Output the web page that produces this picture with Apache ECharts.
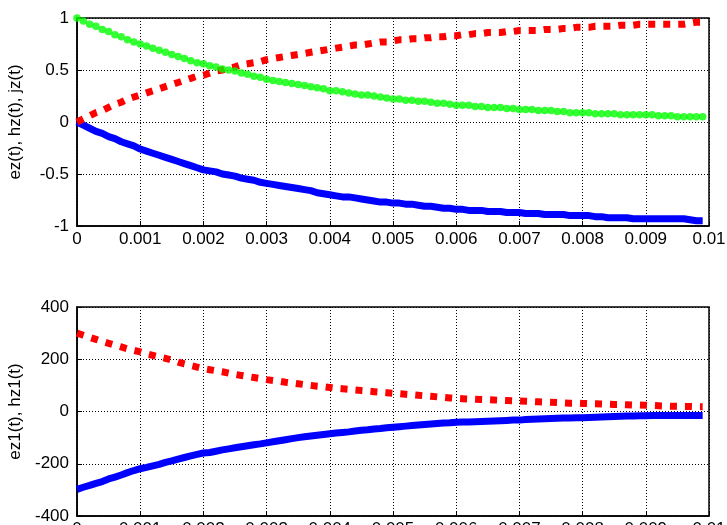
<!DOCTYPE html>
<html>
<head>
<meta charset="utf-8">
<script src="https://cdn.jsdelivr.net/npm/echarts@6/dist/echarts.min.js"></script>
<style>
html,body{margin:0;padding:0;background:#fff;}
#c{width:727px;height:525px;}
</style>
</head>
<body>
<div id="c"></div>
<script>
// sample times (s)
const time = [0,0.0001,0.0002,0.0003,0.0004,0.0005,0.0006,0.0007,0.0008,0.0009,
0.001,0.0011,0.0012,0.0013,0.0014,0.0015,0.0016,0.0017,0.0018,0.0019,
0.002,0.0021,0.0022,0.0023,0.0024,0.0025,0.0026,0.0027,0.0028,0.0029,
0.003,0.0031,0.0032,0.0033,0.0034,0.0035,0.0036,0.0037,0.0038,0.0039,
0.004,0.0041,0.0042,0.0043,0.0044,0.0045,0.0046,0.0047,0.0048,0.0049,
0.005,0.0051,0.0052,0.0053,0.0054,0.0055,0.0056,0.0057,0.0058,0.0059,
0.006,0.0061,0.0062,0.0063,0.0064,0.0065,0.0066,0.0067,0.0068,0.0069,
0.007,0.0071,0.0072,0.0073,0.0074,0.0075,0.0076,0.0077,0.0078,0.0079,
0.008,0.0081,0.0082,0.0083,0.0084,0.0085,0.0086,0.0087,0.0088,0.0089,
0.009,0.0091,0.0092,0.0093,0.0094,0.0095,0.0096,0.0097,0.0098,0.0099];

// top panel
const ez = [0,-0.03,-0.06,-0.09,-0.11,-0.14,-0.16,-0.19,-0.21,-0.23,
-0.26,-0.28,-0.30,-0.32,-0.34,-0.36,-0.38,-0.40,-0.42,-0.44,
-0.46,-0.47,-0.48,-0.50,-0.51,-0.52,-0.54,-0.55,-0.56,-0.58,
-0.59,-0.60,-0.61,-0.62,-0.63,-0.64,-0.65,-0.66,-0.68,-0.69,
-0.70,-0.71,-0.72,-0.72,-0.73,-0.74,-0.75,-0.76,-0.77,-0.77,
-0.78,-0.78,-0.79,-0.79,-0.80,-0.81,-0.81,-0.82,-0.83,-0.83,
-0.84,-0.84,-0.85,-0.85,-0.85,-0.86,-0.86,-0.86,-0.87,-0.87,
-0.87,-0.88,-0.88,-0.88,-0.89,-0.89,-0.89,-0.89,-0.90,-0.90,
-0.90,-0.90,-0.91,-0.91,-0.92,-0.92,-0.92,-0.92,-0.93,-0.93,
-0.93,-0.93,-0.93,-0.93,-0.93,-0.93,-0.93,-0.94,-0.95,-0.95];

const hz = [0,0.03,0.06,0.09,0.11,0.14,0.17,0.19,0.22,0.24,
0.26,0.28,0.30,0.32,0.34,0.36,0.38,0.40,0.42,0.44,
0.45,0.47,0.49,0.50,0.52,0.53,0.55,0.56,0.57,0.58,
0.60,0.61,0.62,0.63,0.64,0.65,0.66,0.67,0.68,0.69,
0.70,0.71,0.72,0.73,0.74,0.74,0.75,0.76,0.77,0.77,
0.78,0.79,0.79,0.80,0.80,0.81,0.81,0.82,0.82,0.83,
0.83,0.84,0.84,0.85,0.85,0.86,0.86,0.86,0.87,0.87,
0.88,0.88,0.88,0.88,0.89,0.89,0.89,0.90,0.90,0.91,
0.91,0.91,0.92,0.92,0.92,0.92,0.93,0.93,0.93,0.94,
0.94,0.94,0.94,0.94,0.94,0.94,0.94,0.95,0.96,0.96];

const jz = [1.00,0.97,0.94,0.92,0.89,0.87,0.84,0.82,0.79,0.77,
0.75,0.73,0.71,0.69,0.67,0.65,0.63,0.61,0.59,0.57,
0.56,0.54,0.53,0.51,0.50,0.49,0.47,0.46,0.44,0.43,
0.41,0.40,0.39,0.38,0.37,0.36,0.35,0.34,0.33,0.32,
0.30,0.30,0.29,0.28,0.27,0.26,0.26,0.25,0.24,0.23,
0.22,0.22,0.21,0.21,0.20,0.20,0.19,0.18,0.18,0.17,
0.16,0.16,0.16,0.15,0.15,0.14,0.14,0.14,0.13,0.13,
0.12,0.12,0.12,0.11,0.11,0.11,0.10,0.10,0.09,0.09,
0.09,0.09,0.08,0.08,0.08,0.08,0.07,0.07,0.07,0.07,
0.07,0.07,0.06,0.06,0.06,0.05,0.05,0.05,0.05,0.05];

// bottom panel
const ez1 = [-298,-290,-283,-275,-268,-258,-251,-243,-234,-226,
-219,-214,-208,-202,-195,-189,-182,-176,-170,-164,
-159,-157,-152,-147,-143,-139,-135,-131,-127,-124,
-120,-116,-112,-108,-104,-100,-97,-94,-91,-88,
-85,-82,-80,-78,-75,-72,-70,-67,-65,-62,
-60,-58,-56,-54,-52,-50,-48,-46,-44,-43,
-41,-40,-40,-39,-38,-37,-36,-35,-34,-33,
-33,-31,-30,-29,-28,-27,-26,-25,-25,-24,
-24,-23,-22,-21,-20,-19,-18,-17,-17,-16,
-16,-15,-15,-15,-15,-15,-15,-15,-15,-15];

const hz1 = [300,292,284,276,268,261,254,247,240,234,
228,221,215,209,203,197,189,182,176,170,
164,160,156,152,147,142,138,134,130,126,
122,119,116,112,109,106,103,100,97,95,
92,89,87,85,82,80,78,76,74,72,
70,68,66,64,62,60,58,56,54,52,
50,49,48,47,46,45,44,43,42,41,
40,39,38,37,36,35,34,33,32,32,
31,30,30,29,28,27,27,26,25,25,
24,23,22,21,20,20,19,19,18,18];

const xTicks = {min:0, max:0.01, interval:0.001};
const topTicks = {min:-1, max:1, interval:0.5};
const botTicks = {min:-400, max:400, interval:200};

const pair = arr => arr.map((v,i)=>[time[i], v]);

const font = 'Liberation Sans, Arial, sans-serif';
const txt = {color:'#000', fontFamily:font, fontSize:17};

function xAx(gi){
  return {
    type:'value', gridIndex:gi, min:xTicks.min, max:xTicks.max, interval:xTicks.interval,
    axisLine:{show:true, onZero:false, lineStyle:{color:'#000', width:1.5}},
    axisTick:{show:true, inside:true, length:5, lineStyle:{color:'#000'}},
    axisLabel:Object.assign({margin:5, showMinLabel:true, showMaxLabel:true, hideOverlap:false}, txt),
    splitLine:{show:true, lineStyle:{color:'#000', type:[1,2], width:1}}
  };
}
function yAx(gi, t, name){
  return {
    type:'value', gridIndex:gi, min:t.min, max:t.max, interval:t.interval,
    name:name, nameLocation:'middle', nameGap:53, nameTextStyle:txt,
    axisLine:{show:true, onZero:false, lineStyle:{color:'#000', width:1.5}},
    axisTick:{show:true, inside:true, length:5, lineStyle:{color:'#000'}},
    axisLabel:Object.assign({margin:8}, txt),
    splitLine:{show:true, lineStyle:{color:'#000', type:[1,2], width:1}}
  };
}

const blueStyle = {color:'#0000ff', width:7};
const redStyle = {color:'#ff0000', width:7, type:[7,8], cap:'butt'};

const gridBase = {left:77, right:18, show:true, borderColor:'#000', borderWidth:1.5, backgroundColor:'transparent', containLabel:false, outerBoundsMode:'none'};

const chart = echarts.init(document.getElementById('c'), null, {renderer:'canvas'});
chart.setOption({
  animation:false,
  backgroundColor:'#fff',
  grid:[
    Object.assign({top:18, height:208}, gridBase),
    Object.assign({top:307, height:209}, gridBase)
  ],
  xAxis:[xAx(0), xAx(1)],
  yAxis:[yAx(0, topTicks, 'ez(t), hz(t), jz(t)'), yAx(1, botTicks, 'ez1(t), hz1(t)')],
  series:[
    {type:'line', xAxisIndex:0, yAxisIndex:0, data:pair(ez), showSymbol:false, lineStyle:blueStyle, z:3},
    {type:'line', xAxisIndex:0, yAxisIndex:0, data:pair(hz), showSymbol:false, lineStyle:redStyle, z:4},
    {type:'scatter', xAxisIndex:0, yAxisIndex:0, data:pair(jz), symbol:'circle', symbolSize:7.5, itemStyle:{color:'#00ff00'}, z:5},
    {type:'line', xAxisIndex:1, yAxisIndex:1, data:pair(ez1), showSymbol:false, lineStyle:blueStyle, z:3},
    {type:'line', xAxisIndex:1, yAxisIndex:1, data:pair(hz1), showSymbol:false, lineStyle:redStyle, z:4}
  ]
});
</script>
</body>
</html>
